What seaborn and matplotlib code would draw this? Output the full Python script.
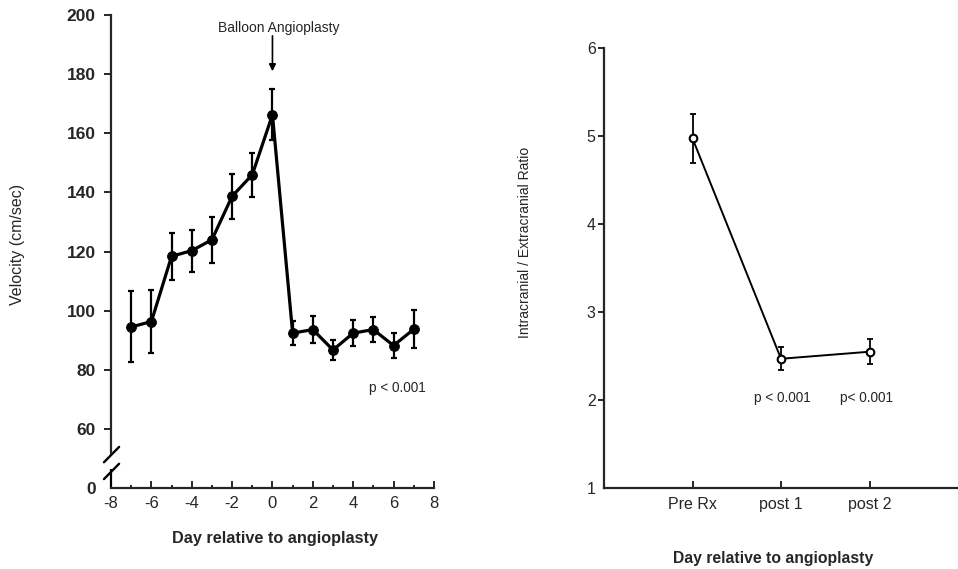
import numpy as np
import pandas as pd
import seaborn as sns
import matplotlib
matplotlib.use("Agg")
import matplotlib.pyplot as plt

# data
days = [-7, -6, -5, -4, -3, -2, -1, 0, 1, 2, 3, 4, 5, 6, 7]
velocity = [94.5, 96.3, 118.4, 120.3, 124.0, 138.7, 146.0, 166.3,
            92.4, 93.6, 86.7, 92.4, 93.6, 88.2, 93.7]
velocity_err = [12.0, 10.6, 8.0, 7.1, 7.8, 7.6, 7.5, 8.6,
                4.1, 4.7, 3.5, 4.3, 4.1, 4.1, 6.5]

stages = ["Pre Rx", "post 1", "post 2"]
ratio = [4.97, 2.47, 2.55]
ratio_err = [0.28, 0.13, 0.14]

# y-axis with a break: label "0" is drawn at 40 in data space
vel_ticks = [40, 60, 80, 100, 120, 140, 160, 180, 200]
vel_labels = ["0", "60", "80", "100", "120", "140", "160", "180", "200"]

sns.set_style("ticks")
plt.rcParams["font.family"] = ["Liberation Sans", "DejaVu Sans"]
plt.rcParams["axes.linewidth"] = 1.6
plt.rcParams["axes.unicode_minus"] = False

fig = plt.figure(figsize=(9.58, 5.69), dpi=100)
ax1 = fig.add_axes([0.1159, 0.1424, 0.337, 0.831])
ax2 = fig.add_axes([0.6305, 0.1418, 0.3695, 0.7744])

## left panel ##
df1 = pd.DataFrame({"day": days, "velocity": velocity})
sns.lineplot(data=df1, x="day", y="velocity", ax=ax1, color="black",
             linewidth=2.3, marker="o", markersize=7, markeredgecolor="black",
             errorbar=None)
ax1.errorbar(days, velocity, yerr=velocity_err, fmt="none", ecolor="black",
             elinewidth=1.6, capsize=2.3, capthick=1.6)

ax1.set_xlim(-8, 8)
ax1.set_ylim(40, 200)
ax1.set_xticks(range(-8, 9, 2))
ax1.set_xticks(range(-7, 8, 2), minor=True)
ax1.set_yticks(vel_ticks)
ax1.set_yticklabels(vel_labels, fontweight="bold")
ax1.tick_params(axis="x", direction="in", length=5, width=1.4, labelsize=12, pad=6)
ax1.tick_params(axis="x", which="minor", direction="in", length=2.5, width=1.4)
ax1.tick_params(axis="y", direction="out", length=5, width=1.4, labelsize=12.5, pad=6)
ax1.yaxis.get_major_ticks()[0].tick1line.set_visible(False)
for s in ["top", "right"]:
    ax1.spines[s].set_visible(False)

# break marks on the y axis
ax1.spines["left"].set_bounds(51.7, 200)
ax1.plot([-8, -8], [40, 46.3], color="black", lw=1.6, clip_on=False,
         solid_capstyle="butt")
for yb in [51.3, 45.6]:
    ax1.plot([-8.35, -7.6], [yb - 2.6, yb + 2.6], color="black", lw=1.7,
             clip_on=False)

ax1.set_xlabel("Day relative to angioplasty", fontsize=11.7, fontweight="bold")
ax1.set_ylabel("Velocity (cm/sec)", fontsize=11.5)
ax1.xaxis.set_label_coords(0.508, -0.09)
ax1.yaxis.set_label_coords(-0.266, 0.515)

ax1.text(0.3, 195.5, "Balloon Angioplasty", ha="center", va="center",
         fontsize=10)
ax1.annotate("", xy=(0, 181), xytext=(0, 193),
             arrowprops=dict(arrowstyle="-|>", color="black", lw=1.2,
                             shrinkA=0, shrinkB=0, mutation_scale=10))
ax1.text(6.2, 73.7, "p < 0.001", ha="center", va="center", fontsize=9.8)

## right panel ##
df2 = pd.DataFrame({"stage": stages, "ratio": ratio})
sns.lineplot(data=df2, x="stage", y="ratio", ax=ax2, color="black",
             linewidth=1.4, marker="o", markersize=5.5,
             markerfacecolor="white", markeredgecolor="black",
             markeredgewidth=1.5, errorbar=None, sort=False)
ax2.errorbar(stages, ratio, yerr=ratio_err, fmt="none", ecolor="black",
             elinewidth=1.3, capsize=2.5, capthick=1.3, zorder=1)

ax2.set_xlim(-1, 3)
ax2.set_ylim(1, 6)
ax2.set_yticks([1, 2, 3, 4, 5, 6])
ax2.tick_params(axis="x", direction="in", length=5, width=1.4, labelsize=11.5, pad=6)
ax2.tick_params(axis="y", direction="out", length=4.5, width=1.4, labelsize=11.5, pad=1.5)
ax2.yaxis.get_major_ticks()[0].tick1line.set_visible(False)
for s in ["top", "right"]:
    ax2.spines[s].set_visible(False)

ax2.set_xlabel("Day relative to angioplasty", fontsize=11.3, fontweight="bold")
ax2.set_ylabel("Intracranial / Extracranial Ratio", fontsize=10)
ax2.xaxis.set_label_coords(0.477, -0.143)
ax2.yaxis.set_label_coords(-0.203, 0.558)

ax2.text(1.02, 2.02, "p < 0.001", ha="center", va="center", fontsize=9.8)
ax2.text(1.97, 2.02, "p< 0.001", ha="center", va="center", fontsize=9.8)

fig.savefig("out.png", dpi=100)
